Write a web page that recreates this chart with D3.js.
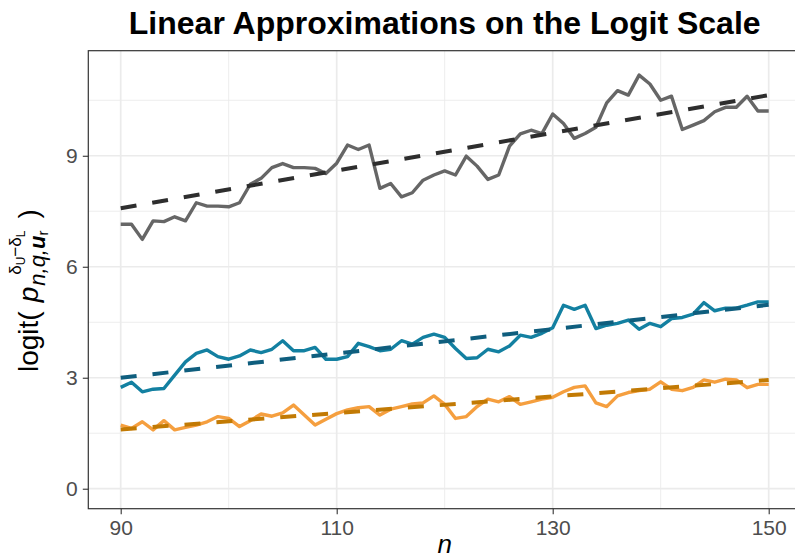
<!DOCTYPE html>
<html>
<head>
<meta charset="utf-8">
<script src="https://cdn.jsdelivr.net/npm/d3@7"></script>
<style>
  html, body { margin: 0; padding: 0; background: #ffffff; }
  svg { display: block; }
  text { font-family: "Liberation Sans", Arial, Helvetica, sans-serif; }
</style>
</head>
<body>
<svg id="chart" width="795" height="560"></svg>
<script>
// Sample sizes on the horizontal axis
const nValues = [90, 91, 92, 93, 94, 95, 96, 97, 98, 99,
  100, 101, 102, 103, 104, 105, 106, 107, 108, 109,
  110, 111, 112, 113, 114, 115, 116, 117, 118, 119,
  120, 121, 122, 123, 124, 125, 126, 127, 128, 129,
  130, 131, 132, 133, 134, 135, 136, 137, 138, 139,
  140, 141, 142, 143, 144, 145, 146, 147, 148, 149, 150];

// logit values, one series per curve
const grayValues = [7.15, 7.15, 6.74, 7.24, 7.22, 7.35, 7.24, 7.73, 7.64, 7.64,
  7.62, 7.73, 8.23, 8.39, 8.68, 8.79, 8.68, 8.68, 8.66, 8.52,
  8.80, 9.29, 9.17, 9.29, 8.12, 8.25, 7.89, 8.00, 8.34, 8.48,
  8.59, 8.48, 8.99, 8.72, 8.36, 8.48, 9.26, 9.59, 9.69, 9.60,
  10.13, 9.87, 9.47, 9.60, 9.77, 10.43, 10.76, 10.64, 11.18, 10.94,
  10.50, 10.61, 9.71, 9.83, 9.95, 10.19, 10.31, 10.31, 10.61, 10.21, 10.21];

const blueValues = [2.74, 2.88, 2.62, 2.69, 2.71, 3.07, 3.43, 3.66, 3.75, 3.57,
  3.50, 3.59, 3.75, 3.68, 3.77, 4.00, 3.73, 3.73, 3.82, 3.50,
  3.50, 3.57, 3.93, 3.84, 3.73, 3.77, 4.00, 3.91, 4.09, 4.18,
  4.09, 3.79, 3.52, 3.54, 3.77, 3.70, 3.86, 4.15, 4.09, 4.20,
  4.35, 4.96, 4.85, 4.96, 4.33, 4.42, 4.47, 4.56, 4.31, 4.47,
  4.38, 4.60, 4.63, 4.72, 5.03, 4.81, 4.88, 4.88, 4.96, 5.05, 5.05];

const orangeValues = [1.72, 1.63, 1.81, 1.59, 1.84, 1.59, 1.66, 1.72, 1.81, 1.95,
  1.90, 1.68, 1.84, 2.02, 1.96, 2.05, 2.26, 1.99, 1.72, 1.88,
  2.03, 2.13, 2.19, 2.22, 1.99, 2.15, 2.22, 2.29, 2.32, 2.51,
  2.28, 1.90, 1.95, 2.22, 2.42, 2.35, 2.49, 2.28, 2.35, 2.42,
  2.47, 2.62, 2.74, 2.78, 2.32, 2.22, 2.51, 2.60, 2.65, 2.69,
  2.89, 2.69, 2.65, 2.74, 2.94, 2.88, 2.96, 2.94, 2.73, 2.82, 2.82];

// Linear approximations: value at the first and last n (gray, blue, orange)
const trendN = [90, 150];
const trendStart = [7.58, 3.00, 1.60];
const trendEnd = [10.64, 4.97, 2.94];

// Axis ticks
const xTicks = [90, 110, 130, 150];
const xMinorTicks = [100, 120, 140];
const yTicks = [0, 3, 6, 9];
const yMinorTicks = [1.5, 4.5, 7.5, 10.5];

const lineColors = ["#666666", "#1380A1", "#F59F3F"];
const trendColors = ["#2E2E2E", "#0F5E7E", "#C27A04"];

const svg = d3.select("#chart");
const panel = { left: 88.3, right: 801.1, top: 50.7, bottom: 508.7 };

const x = d3.scaleLinear().domain([87, 153]).range([panel.left, panel.right]);
const y = d3.scaleLinear().domain([-0.54, 11.84]).range([panel.bottom, panel.top]);

// Grid
const grid = svg.append("g");
grid.selectAll(".ymin").data(yMinorTicks).join("line")
  .attr("x1", panel.left).attr("x2", panel.right)
  .attr("y1", d => y(d)).attr("y2", d => y(d))
  .attr("stroke", "#EBEBEB").attr("stroke-width", 0.9);
grid.selectAll(".xmin").data(xMinorTicks).join("line")
  .attr("y1", panel.top).attr("y2", panel.bottom)
  .attr("x1", d => x(d)).attr("x2", d => x(d))
  .attr("stroke", "#EBEBEB").attr("stroke-width", 0.9);
grid.selectAll(".ymaj").data(yTicks).join("line")
  .attr("x1", panel.left).attr("x2", panel.right)
  .attr("y1", d => y(d)).attr("y2", d => y(d))
  .attr("stroke", "#EBEBEB").attr("stroke-width", 1.7);
grid.selectAll(".xmaj").data(xTicks).join("line")
  .attr("y1", panel.top).attr("y2", panel.bottom)
  .attr("x1", d => x(d)).attr("x2", d => x(d))
  .attr("stroke", "#EBEBEB").attr("stroke-width", 1.7);

// Series lines
const seriesList = [grayValues, blueValues, orangeValues];
const line = d3.line().x((d, i) => x(nValues[i])).y(d => y(d));
const trendLine = d3.line().x((d, i) => x(trendN[i])).y(d => y(d));

seriesList.forEach((vals, k) => {
  svg.append("path").datum(vals)
    .attr("d", line)
    .attr("fill", "none")
    .attr("stroke", lineColors[k])
    .attr("stroke-width", 3.4)
    .attr("stroke-linejoin", "round");
  svg.append("path").datum([trendStart[k], trendEnd[k]])
    .attr("d", trendLine)
    .attr("fill", "none")
    .attr("stroke", trendColors[k])
    .attr("stroke-width", 4)
    .attr("stroke-dasharray", "16,16");
});

// Panel border
svg.append("rect")
  .attr("x", panel.left).attr("y", panel.top)
  .attr("width", panel.right - panel.left).attr("height", panel.bottom - panel.top)
  .attr("fill", "none").attr("stroke", "#333333").attr("stroke-width", 1.2);

// Axes
const yAxis = svg.append("g")
  .attr("transform", `translate(${panel.left},0)`)
  .call(d3.axisLeft(y).tickValues(yTicks).tickSize(5.5).tickPadding(5).tickFormat(d3.format("d")));
const xAxis = svg.append("g")
  .attr("transform", `translate(0,${panel.bottom})`)
  .call(d3.axisBottom(x).tickValues(xTicks).tickSize(5.5).tickPadding(6).tickFormat(d3.format("d")));
[yAxis, xAxis].forEach(ax => {
  ax.select(".domain").remove();
  ax.selectAll(".tick line").attr("stroke", "#333333").attr("stroke-width", 1.1);
  ax.selectAll(".tick text").attr("fill", "#4D4D4D").attr("font-size", 21)
    .attr("font-family", "'Liberation Sans', Arial, sans-serif");
});

// Title
svg.append("text")
  .attr("x", (panel.left + panel.right) / 2).attr("y", 34)
  .attr("text-anchor", "middle")
  .attr("font-size", 32).attr("font-weight", "bold").attr("fill", "#000")
  .text("Linear Approximations on the Logit Scale");

// x-axis title
svg.append("text")
  .attr("x", (panel.left + panel.right) / 2).attr("y", 553)
  .attr("text-anchor", "middle")
  .attr("font-size", 26).attr("font-style", "italic").attr("fill", "#000")
  .text("n");

// y-axis title: logit( p with superscript δU−δL and subscript n,q,u_r )
const lab = svg.append("g").attr("transform", "translate(38,372) rotate(-90)");
function piece(txt, at, dy, size, style, weight) {
  const t = lab.append("text").attr("x", at).attr("y", dy)
    .attr("font-size", size).attr("fill", "#000")
    .attr("font-style", style || null).attr("font-weight", weight || null)
    .text(txt);
  return t.node().getComputedTextLength();
}
function measure(txt, size, style, weight) {
  const t = lab.append("text").attr("font-size", size)
    .attr("font-style", style || null).attr("font-weight", weight || null).text(txt);
  const w = t.node().getComputedTextLength();
  t.remove();
  return w;
}
let cx = 0;
cx += piece("logit(", cx, 0, 28);
cx += 9;
cx += piece("p", cx, 0, 28, "italic");
const subStart = cx + 1;
let sx = subStart;
sx += piece("n,q,", sx, 7, 22, "italic");
sx += piece("u", sx, 7, 22, "italic", "bold");
sx += piece("r", sx, 10, 15);
const supW = measure("δ−δ", 17) + measure("UL", 12);
let px = Math.max(subStart, sx - supW);
px += piece("δ", px, -17, 17);
px += piece("U", px, -13, 12);
px += piece("−δ", px, -17, 17);
px += piece("L", px, -13, 12);
cx = Math.max(sx, px) + 12;
piece(")", cx, 0, 28);
</script>
</body>
</html>
